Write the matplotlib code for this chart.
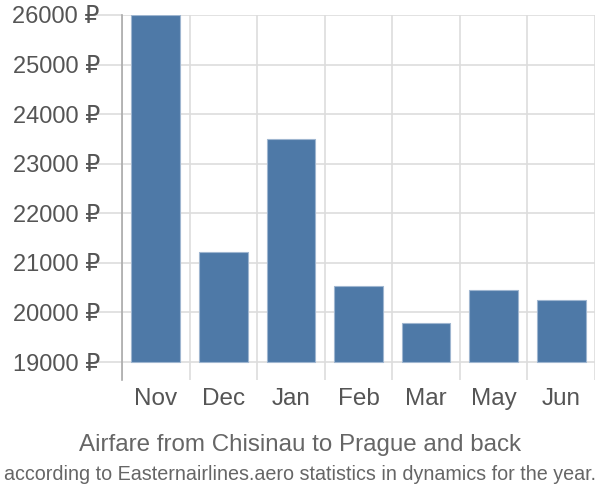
import matplotlib
matplotlib.use('Agg')
import matplotlib.pyplot as plt
import numpy as np

plt.rcParams['font.family'] = ['Liberation Sans', 'DejaVu Sans']

months = ['Nov', 'Dec', 'Jan', 'Feb', 'Mar', 'May', 'Jun']
prices = [26000, 21220, 23500, 20530, 19790, 20450, 20250]
yticks = [19000, 20000, 21000, 22000, 23000, 24000, 25000, 26000]
base = 19000

fig = plt.figure(figsize=(6, 5), dpi=100)
ax = fig.add_axes([122 / 600, 1 - 380 / 500, (595 - 122) / 600, (380 - 15) / 500])

x = np.arange(len(months))
heights = [p - base for p in prices]
ax.bar(x, heights, bottom=base, width=0.72, color='#4e79a7',
       edgecolor='#9fb6d0', linewidth=0.8, zorder=3)

ax.set_xlim(-0.5, len(months) - 0.5)
ax.set_ylim(base - 18 / 49.6 * 1000, 26000)

ax.set_yticks(yticks)
ax.set_yticklabels([f'{v} ₽' for v in yticks], fontsize=17, color='#555555')
ax.set_xticks(x)
ax.set_xticklabels(months, fontsize=17.5, color='#555555')
ax.set_xticks(np.arange(-0.5, len(months)), minor=True)

ax.grid(True, axis='y', which='major', color='#dddddd', linewidth=1.2, zorder=0)
ax.grid(True, axis='x', which='minor', color='#dddddd', linewidth=1.2, zorder=0)
ax.tick_params(axis='y', length=20, color='#dddddd', width=1.2, pad=-4)
ax.tick_params(axis='x', which='both', length=0, pad=6)

for s in ['top', 'right', 'bottom']:
    ax.spines[s].set_visible(False)
ax.spines['left'].set_color('#aaaaaa')
ax.spines['left'].set_linewidth(1.2)

fig.text(0.5, 1 - 445 / 500, 'Airfare from Chisinau to Prague and back',
         ha='center', va='center', fontsize=17.4, color='#666666')
fig.text(0.5, 1 - 474 / 500,
         'according to Easternairlines.aero statistics in dynamics for the year.',
         ha='center', va='center', fontsize=14.2, color='#666666')

fig.savefig('out.png', dpi=100)
